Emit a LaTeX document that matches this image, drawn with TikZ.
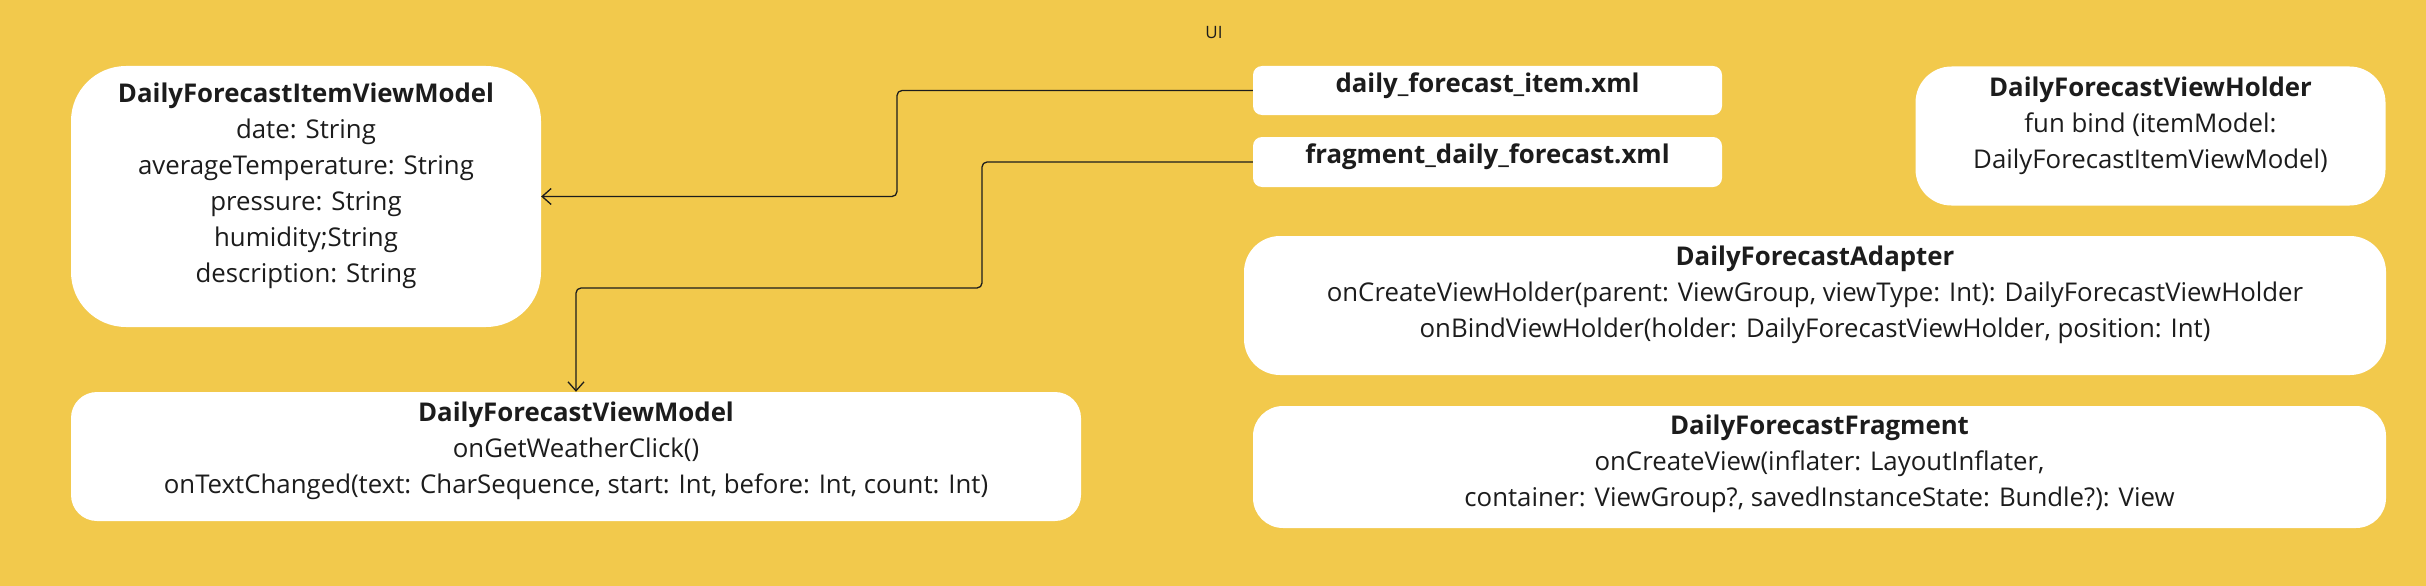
\documentclass[tikz,border=0pt]{standalone}
\usepackage{fontspec}
\setmainfont{Open Sans}
\usetikzlibrary{arrows.meta}
\definecolor{bgyel}{HTML}{F2C94C}
\definecolor{ink}{HTML}{1C1C1C}
\tikzset{
  box/.style={fill=white, draw=none, inner sep=0pt},
  txt/.style={text=ink, align=center, inner sep=0pt, font=\fontsize{25.8}{36}\selectfont},
  conn/.style={draw=ink, line width=1.3pt, rounded corners=5pt, -{Straight Barb[length=9pt,width=16pt,line width=1.3pt]}}
}
\begin{document}
\begin{tikzpicture}[x=1pt,y=-1pt]
\fill[bgyel] (0,0) rectangle (2426,586);
\useasboundingbox (0,0) rectangle (2426,586);
\node[text=ink, font=\fontsize{17}{18}\selectfont, inner sep=0pt] (ui) at (1214,33) {UI};
% boxes
\node[box, minimum width=470pt, minimum height=261pt, rounded corners=55pt] (ivm) at (306,196.5) {};
\node[box, minimum width=1010pt, minimum height=129pt, rounded corners=26pt] (vm) at (576,456.5) {};
\node[box, minimum width=469pt, minimum height=49pt, rounded corners=9pt] (dfi) at (1487.5,90.5) {};
\node[box, minimum width=469pt, minimum height=50pt, rounded corners=9pt] (fdf) at (1487.5,162) {};
\node[box, minimum width=470pt, minimum height=139pt, rounded corners=36pt] (vh) at (2150.5,136) {};
\node[box, minimum width=1142pt, minimum height=139pt, rounded corners=36pt] (ad) at (1815,305.5) {};
\node[box, minimum width=1133pt, minimum height=122pt, rounded corners=30pt] (fr) at (1819.5,467) {};
% texts
\node[txt] (ivmt) at (306,186) {\textbf{DailyForecastItemViewModel}\\date: String\\averageTemperature: String\\pressure: String\\humidity;String\\description: String};
\node[txt] (vmt) at (576,451) {\textbf{DailyForecastViewModel}\\onGetWeatherClick()\\onTextChanged(text: CharSequence, start: Int, before: Int, count: Int)};
\node[txt] (dfit) at (1487.5,86) {\textbf{daily\_forecast\_item.xml}};
\node[txt] (fdft) at (1487.5,157) {\textbf{fragment\_daily\_forecast.xml}};
\node[txt] (vht) at (2150.5,126) {\textbf{DailyForecastViewHolder}\\fun bind (itemModel:\\DailyForecastItemViewModel)};
\node[txt] (adt) at (1815,295) {\textbf{DailyForecastAdapter}\\onCreateViewHolder(parent: ViewGroup, viewType: Int): DailyForecastViewHolder\\onBindViewHolder(holder: DailyForecastViewHolder, position: Int)};
\node[txt] (frt) at (1819.5,464) {\textbf{DailyForecastFragment}\\onCreateView(inflater: LayoutInflater,\\container: ViewGroup?, savedInstanceState: Bundle?): View};
% connectors
\coordinate (c1) at (897,90.5);
\coordinate (c2) at (982,162);
\coordinate (c3) at (576,288);
\draw[conn] (dfi.west) -- (c1) |- (ivm.east);
\draw[conn] (fdf.west) -- (c2) |- (c3) -- (vm.north);
\end{tikzpicture}
\end{document}
